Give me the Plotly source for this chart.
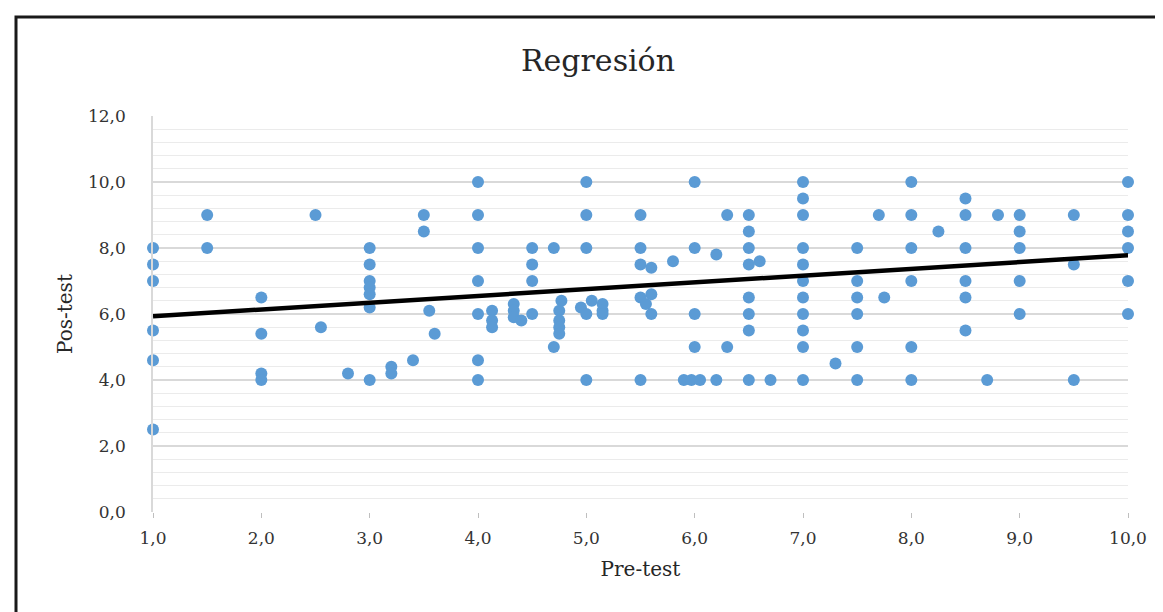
import plotly.graph_objects as go

# Pre-test scores (x) and Pos-test scores (y)
pre_test = [
    1, 1, 1, 1, 1, 1,
    1.5, 1.5, 2.5,
    2, 2, 2, 2, 2.55, 2.8,
    3, 3, 3, 3, 3, 3, 3,
    3.2, 3.2, 3.4,
    3.5, 3.5, 3.55, 3.6,
    4, 4, 4, 4, 4, 4, 4,
    4.13, 4.13, 4.13,
    4.33, 4.33, 4.33, 4.4,
    4.5, 4.5, 4.5, 4.5,
    4.7, 4.77, 4.75, 4.75, 4.75, 4.75, 4.7,
    5, 5, 5, 5,
    4.95, 5.0, 5.05, 5.15, 5.15, 5.15,
    5.5, 5.5, 5.5, 5.6, 5.5, 5.6, 5.55, 5.6, 5.5,
    5.8,
    6, 6, 6, 6, 5.9, 5.97, 6.05,
    6.2, 6.2, 6.3, 6.3,
    6.5, 6.5, 6.5, 6.5, 6.6, 6.5, 6.5, 6.5, 6.5,
    6.7,
    7, 7, 7, 7, 7, 7, 7, 7, 7, 7, 7,
    7.3,
    7.5, 7.5, 7.5, 7.5, 7.5, 7.5,
    7.7, 7.75,
    8, 8, 8, 8, 8, 8,
    8.25,
    8.5, 8.5, 8.5, 8.5, 8.5, 8.5,
    8.7, 8.8,
    9, 9, 9, 9, 9,
    9.5, 9.5, 9.5,
    10, 10, 10, 10, 10, 10,
]
pos_test = [
    8, 7.5, 7, 5.5, 4.6, 2.5,
    9, 8, 9,
    6.5, 5.4, 4.2, 4.0, 5.6, 4.2,
    4, 8, 7.5, 7, 6.8, 6.6, 6.2,
    4.4, 4.2, 4.6,
    9, 8.5, 6.1, 5.4,
    10, 9, 8, 7, 6, 4.6, 4,
    6.1, 5.8, 5.6,
    6.3, 6.1, 5.9, 5.8,
    8, 7.5, 7, 6,
    8, 6.4, 6.1, 5.8, 5.6, 5.4, 5.0,
    10, 9, 8, 4,
    6.2, 6.0, 6.4, 6.3, 6.1, 6.0,
    9, 8, 7.5, 7.4, 6.5, 6.6, 6.3, 6.0, 4,
    7.6,
    10, 8, 6, 5, 4, 4, 4,
    7.8, 4, 9, 5,
    9, 8.5, 8, 7.5, 7.6, 6.5, 6, 5.5, 4,
    4,
    10, 9.5, 9, 8, 7.5, 7, 6.5, 6, 5.5, 5, 4,
    4.5,
    8, 7, 6.5, 6, 5, 4,
    9, 6.5,
    10, 9, 8, 7, 5, 4,
    8.5,
    9.5, 9, 8, 7, 6.5, 5.5,
    4, 9,
    9, 8.5, 8, 7, 6,
    9, 7.5, 4,
    10, 9, 8.5, 8, 7, 6,
]

# Regression line end points
trend_x = [1, 10]
trend_y = [5.93, 7.78]

title_text = "Regresión"
x_title = "Pre-test"
y_title = "Pos-test"

FONT = "DejaVu Serif"

fig = go.Figure()
fig.add_trace(go.Scatter(
    x=pre_test, y=pos_test, mode="markers",
    marker=dict(color="#5B9BD5", size=12, line=dict(width=0)),
    cliponaxis=False, showlegend=False,
))
fig.add_trace(go.Scatter(
    x=trend_x, y=trend_y, mode="lines",
    line=dict(color="#000000", width=4.5),
    cliponaxis=False, showlegend=False,
))

W, H = 1163, 612
L, R, T, B = 145, 43, 108, 108
pw, ph = W - L - R, H - T - B

# outer chart border
fig.add_shape(type="rect", xref="paper", yref="paper",
              x0=(8 - L) / pw, x1=(1160 - L) / pw,
              y0=(H - B - 640) / ph, y1=(H - B - 9) / ph,
              line=dict(color="#1a1a1a", width=3), fillcolor="rgba(0,0,0,0)",
              layer="below")

fig.update_layout(
    width=W, height=H,
    margin=dict(l=L, r=R, t=T, b=B),
    paper_bgcolor="white", plot_bgcolor="white",
    separators=",.",
    font=dict(family=FONT, color="#404040"),
    title=dict(text=title_text, x=590 / W, xref="container", xanchor="center",
               y=1 - 52 / H, yref="container", yanchor="middle",
               font=dict(family=FONT, size=30, color="#262626")),
    xaxis=dict(
        range=[1, 10], dtick=1, tick0=1, tickformat=".1f",
        showgrid=False, zeroline=False, showline=False,
        ticks="outside", ticklen=5, tickcolor="#bfbfbf",
        tickfont=dict(family=FONT, size=17, color="#333333"),
        ticklabelstandoff=6,
        title=dict(text=x_title, font=dict(family=FONT, size=20, color="#262626"),
                   standoff=14),
    ),
    yaxis=dict(
        range=[0, 12], dtick=2, tick0=0, tickformat=".1f",
        showgrid=True, gridcolor="#d9d9d9", gridwidth=1.5,
        zeroline=False, showline=True, linecolor="#d9d9d9", linewidth=1.5,
        ticks="", tickfont=dict(family=FONT, size=17, color="#333333"),
        ticklabelstandoff=22,
        minor=dict(dtick=0.4, tick0=0, showgrid=True, gridcolor="#ebebeb", gridwidth=1),
        title=dict(text=y_title, font=dict(family=FONT, size=20, color="#262626"),
                   standoff=10),
    ),
)

fig.write_html("out.html")
